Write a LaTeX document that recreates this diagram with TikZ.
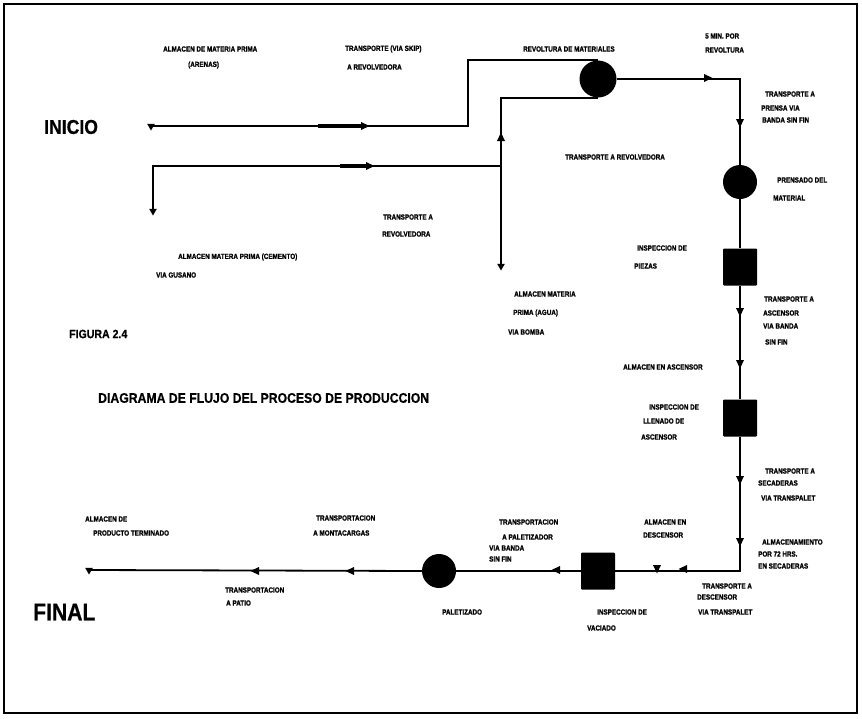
\documentclass[tikz,border=0pt]{standalone}
\usepackage{fontspec}
\setmainfont{Liberation Sans}
\newfontfamily\labfont{Liberation Sans Bold}[FakeStretch=0.84, FakeBold=1]
\newfontfamily\titlefont{Liberation Sans Bold}[FakeStretch=0.88, FakeBold=0.6]
\usetikzlibrary{shapes.geometric}

\tikzset{
  flow/.style={line width=1.8pt, line join=miter},
  heavyline/.style={line width=3.6pt},
  opcircle/.style={circle, fill=black, inner sep=0pt, minimum size=#1},
  inspbox/.style={rectangle, fill=black, inner sep=0pt, minimum width=34pt, minimum height=37pt, rounded corners=1pt},
  storenode/.style={regular polygon, regular polygon sides=3, shape border rotate=180, fill=black, inner sep=0pt, minimum size=9pt},
  flowtip/.pic={\fill (4.5,0) -- (-4,-4) -- (-4,4) -- cycle;},
  lab/.style={font=\labfont\fontsize{7.5}{8}\selectfont, anchor=west, inner sep=0pt},
  bigtitle/.style={anchor=west, inner sep=0pt},
}

\begin{document}
\begin{tikzpicture}[x=1pt,y=-1pt]
\useasboundingbox (0,0) rectangle (862,718);
\fill[white] (0,0) rectangle (862,718);
% page frame
\draw[line width=2.2pt] (4,4) rectangle (857,713);

% ---- operations, inspections and storages
\node[opcircle=37pt] (rev) at (598,79) {};
\node[opcircle=34pt] (pren) at (740,182) {};
\node[inspbox] (i1) at (740,267) {};
\node[inspbox] (i2) at (740,418) {};
\node[inspbox] (i3) at (598,571) {};
\node[opcircle=34pt] (pal) at (439,571) {};
\node[storenode] (sa) at (151,126) {};
\node[storenode] (sc) at (153,211) {};
\node[storenode] (sw) at (501,266) {};
\node[storenode] (sf) at (89,570) {};

% ---- corner and junction points
\coordinate (k1) at (468,126);
\coordinate (k2) at (153,166);
\coordinate (jn) at (501,166);

% ---- flow lines
\draw[flow] (sa.center) -- (k1) |- (rev.north);
\draw[flow] (sc.center) -- (k2) -- (jn);
\draw[flow] (sw.center) |- (rev.south);
\draw[flow] (rev.east) -| (pren.north);
\draw[flow] (pren.south) -- (i1.north);
\draw[flow] (i1.south) -- (i2.north);
\draw[flow] (i2.south) |- (i3.east);
\draw[flow] (i3.west) -- (pal.east);
\draw[flow] (pal.west) -- (sf.center);

% ---- direction marks along the lines (rotate=90 points up, -90 down)
\coordinate (ha) at (318,126); \coordinate (hb) at (362,126);
\coordinate (hc) at (340,166); \coordinate (hd) at (367,166);
\draw[heavyline] (ha) -- (hb);
\draw[heavyline] (hc) -- (hd);
\pic at (365,126) {flowtip};
\pic at (370,166) {flowtip};
\pic[rotate=90] at (501,137) {flowtip};
\pic at (708,78) {flowtip};
\pic[rotate=-90] at (740,123) {flowtip};
\pic[rotate=-90] at (740,312) {flowtip};
\pic[rotate=-90] at (740,364) {flowtip};
\pic[rotate=-90] at (740,480) {flowtip};
\pic[rotate=-90] at (740,542) {flowtip};
\pic[rotate=180] at (683,569) {flowtip};
\pic[rotate=-90] at (657,569) {flowtip};
\pic[rotate=180] at (556,570) {flowtip};
\pic[rotate=180] at (350,571) {flowtip};
\pic[rotate=180] at (255,571) {flowtip};

% ---- titles
\node[bigtitle, font=\titlefont\fontsize{20}{22}\selectfont] (tini) at (44,127) {INICIO};
\node[bigtitle, font=\titlefont\fontsize{24}{26}\selectfont] (tfin) at (33,612) {FINAL};
\node[bigtitle, font=\titlefont\fontsize{12}{14}\selectfont] (tfig) at (69,334) {FIGURA 2.4};
\node[bigtitle, font=\titlefont\fontsize{13.9}{15}\selectfont] (tdia) at (98,398) {DIAGRAMA DE FLUJO DEL PROCESO DE PRODUCCION};

% ---- labels, upper part
\node[lab] (l1) at (163,49) {ALMACEN DE MATERIA PRIMA};
\node[lab] (l2) at (188,65) {(ARENAS)};
\node[lab] (l3) at (345,49) {TRANSPORTE (VIA SKIP)};
\node[lab] (l4) at (347,67) {A REVOLVEDORA};
\node[lab] (l5) at (523,49) {REVOLTURA DE MATERIALES};
\node[lab] (l6) at (705,36) {5 MIN. POR};
\node[lab] (l7) at (705,50) {REVOLTURA};
\node[lab] (l8) at (765,94) {TRANSPORTE A};
\node[lab] (l9) at (761,108) {PRENSA VIA};
\node[lab] (l10) at (762,120) {BANDA SIN FIN};
\node[lab] (l11) at (565,157) {TRANSPORTE A REVOLVEDORA};
\node[lab] (l12) at (777,180) {PRENSADO DEL};
\node[lab] (l13) at (773,198) {MATERIAL};
\node[lab] (l14) at (383,217) {TRANSPORTE A};
\node[lab] (l15) at (382,234) {REVOLVEDORA};
\node[lab] (l16) at (178,257) {ALMACEN MATERA PRIMA (CEMENTO)};
\node[lab] (l17) at (156,275) {VIA GUSANO};
\node[lab] (l18) at (514,294) {ALMACEN MATERIA};
\node[lab] (l19) at (513,313) {PRIMA (AGUA)};
\node[lab] (l20) at (508,332) {VIA BOMBA};

% ---- labels, right column
\node[lab] (l21) at (637,248) {INSPECCION DE};
\node[lab] (l22) at (634,266) {PIEZAS};
\node[lab] (l23) at (764,299) {TRANSPORTE A};
\node[lab] (l24) at (763,313) {ASCENSOR};
\node[lab] (l25) at (763,326) {VIA BANDA};
\node[lab] (l26) at (765,342) {SIN FIN};
\node[lab] (l27) at (623,367) {ALMACEN EN ASCENSOR};
\node[lab] (l28) at (649,407) {INSPECCION DE};
\node[lab] (l29) at (643,421) {LLENADO DE};
\node[lab] (l30) at (641,437) {ASCENSOR};
\node[lab] (l31) at (765,471) {TRANSPORTE A};
\node[lab] (l32) at (758,483) {SECADERAS};
\node[lab] (l33) at (761,498) {VIA TRANSPALET};
\node[lab] (l34) at (762,542) {ALMACENAMIENTO};
\node[lab] (l35) at (758,554) {POR 72 HRS.};
\node[lab] (l36) at (758,566) {EN SECADERAS};

% ---- labels, lower part
\node[lab] (l37) at (644,522) {ALMACEN EN};
\node[lab] (l38) at (643,535) {DESCENSOR};
\node[lab] (l39) at (702,586) {TRANSPORTE A};
\node[lab] (l40) at (697,597) {DESCENSOR};
\node[lab] (l41) at (698,612) {VIA TRANSPALET};
\node[lab] (l42) at (597,612) {INSPECCION DE};
\node[lab] (l43) at (587,628) {VACIADO};
\node[lab] (l44) at (499,522) {TRANSPORTACION};
\node[lab] (l45) at (502,537) {A PALETIZADOR};
\node[lab] (l46) at (489,548) {VIA BANDA};
\node[lab] (l47) at (489,559) {SIN FIN};
\node[lab] (l48) at (316,518) {TRANSPORTACION};
\node[lab] (l49) at (313,533) {A MONTACARGAS};
\node[lab] (l50) at (85,519) {ALMACEN DE};
\node[lab] (l51) at (93,533) {PRODUCTO TERMINADO};
\node[lab] (l52) at (225,590) {TRANSPORTACION};
\node[lab] (l53) at (226,603) {A PATIO};
\node[lab] (l54) at (442,612) {PALETIZADO};
\end{tikzpicture}
\end{document}
